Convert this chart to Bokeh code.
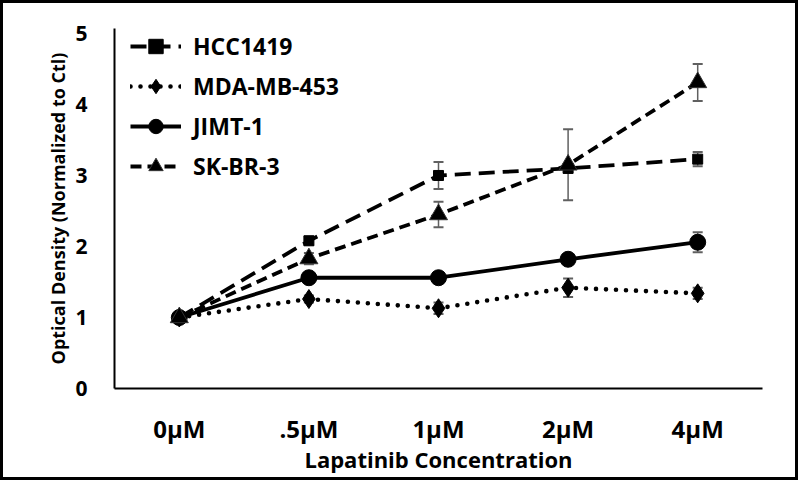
from bokeh.plotting import figure
from bokeh.models import ColumnDataSource, Whisker, TeeHead, FixedTicker, Legend, LegendItem
from bokeh.embed import file_html
from bokeh.resources import INLINE

categories = ["0µM", ".5µM", "1µM", "2µM", "4µM"]
hcc1419 = [1.0, 2.08, 3.00, 3.10, 3.23]
hcc1419_err = [0.03, 0.06, 0.19, 0.06, 0.10]
mda453 = [1.0, 1.26, 1.13, 1.42, 1.34]
mda453_err = [0.02, 0.05, 0.08, 0.13, 0.08]
jimt1 = [1.0, 1.56, 1.56, 1.82, 2.06]
jimt1_err = [0.02, 0.03, 0.03, 0.05, 0.14]
skbr3 = [1.0, 1.83, 2.45, 3.15, 4.31]
skbr3_err = [0.03, 0.08, 0.18, 0.50, 0.26]

xs = [i + 0.5 for i in range(len(categories))]
FONT = "Open Sans"

p = figure(width=798, height=480, x_range=(0, 5), y_range=(0, 5.07),
           output_backend="svg", toolbar_location=None,
           min_border_left=111, min_border_right=39, min_border_top=25, min_border_bottom=95)
p.styles = {"border": "3px solid black", "box-sizing": "border-box"}
p.outline_line_color = None
p.grid.visible = False

def add_err(vals, errs):
    src = ColumnDataSource(dict(x=xs, lo=[v - e for v, e in zip(vals, errs)], hi=[v + e for v, e in zip(vals, errs)]))
    w = Whisker(source=src, base="x", lower="lo", upper="hi", line_color="#606060", line_width=1.5,
                upper_head=TeeHead(size=10, line_color="#606060", line_width=2),
                lower_head=TeeHead(size=10, line_color="#606060", line_width=2))
    p.add_layout(w)

series = [
    ("HCC1419", hcc1419, hcc1419_err, "16 8", "square", 10, 3.8),
    ("MDA-MB-453", mda453, mda453_err, "0 10", "diamond", 19, 4.6),
    ("JIMT-1", jimt1, jimt1_err, "solid", "circle", 16, 3.8),
    ("SK-BR-3", skbr3, skbr3_err, "11 6", "triangle", 18, 3.8),
]
items = []
for name, vals, errs, dash, marker, size, lw in series:
    src = ColumnDataSource(dict(x=xs, y=vals))
    ln = p.line("x", "y", source=src, line_color="black", line_width=lw, line_dash=dash,
                line_cap="round" if marker == "diamond" else "butt")
    add_err(vals, errs)
    sc = p.scatter("x", "y", source=src, marker=marker, size=size, fill_color="black",
                   line_color="#333333" if marker == "triangle" else "black", line_width=1)
    items.append(LegendItem(label=name, renderers=[ln, sc]))

legend = Legend(items=items, location=(16, 204), background_fill_alpha=0, border_line_color=None,
                label_text_font=FONT, label_text_font_style="bold", label_text_font_size="23px",
                label_text_color="black",
                glyph_width=51, glyph_height=36, label_height=24, spacing=4, padding=0, margin=0,
                label_standoff=12)
p.add_layout(legend)

p.xaxis.ticker = FixedTicker(ticks=xs)
p.xaxis.major_label_overrides = {x: c for x, c in zip(xs, categories)}
p.yaxis.ticker = FixedTicker(ticks=[0, 1, 2, 3, 4, 5])
for ax in (p.xaxis[0], p.yaxis[0]):
    ax.axis_line_color = "black"
    ax.axis_line_width = 2
    ax.major_tick_line_color = None
    ax.minor_tick_line_color = None
    ax.major_tick_out = 0
    ax.major_tick_in = 0
    ax.minor_tick_out = 0
    ax.major_label_text_font = FONT
    ax.major_label_text_font_style = "bold"
    ax.major_label_text_color = "black"
    ax.axis_label_text_font = FONT
    ax.axis_label_text_font_style = "bold"
    ax.axis_label_text_color = "black"

p.xaxis.major_label_text_font_size = "24px"
p.yaxis.major_label_text_font_size = "21px"
p.xaxis.major_label_standoff = 23
p.yaxis.major_label_standoff = 27
p.xaxis.axis_label = "Lapatinib Concentration"
p.xaxis.axis_label_text_font_size = "22px"
p.xaxis.axis_label_standoff = -4
p.yaxis.axis_label = "Optical Density (Normalized to Ctl)"
p.yaxis.axis_label_text_font_size = "18px"
p.yaxis.axis_label_standoff = 2

open("out.html", "w").write(file_html(p, INLINE))
